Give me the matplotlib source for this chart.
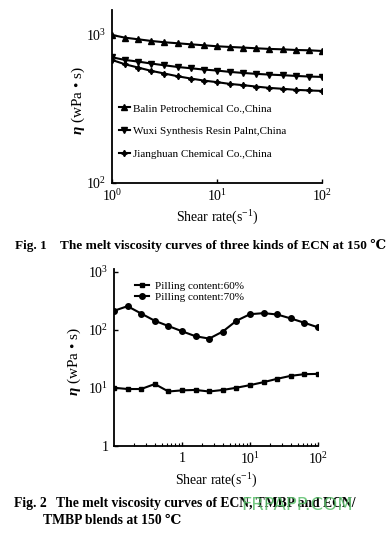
import numpy as np
import matplotlib
matplotlib.use("Agg")
import matplotlib.pyplot as plt
from matplotlib.lines import Line2D

plt.rcParams['font.family'] = ['Liberation Serif', 'DejaVu Serif']
plt.rcParams['mathtext.fontset'] = 'custom'
plt.rcParams['mathtext.rm'] = 'Liberation Serif'
plt.rcParams['mathtext.it'] = 'Liberation Serif:italic'
plt.rcParams['mathtext.bf'] = 'Liberation Serif:bold:italic'

# Fig. 1 data: three ECN grades
rate1 = [1.0, 1.33, 1.78, 2.37, 3.16, 4.22, 5.62, 7.5, 10.0,
         13.3, 17.8, 23.7, 31.6, 42.2, 56.2, 75.0, 100.0]
balin = [1000, 959, 935, 911, 893, 879, 865, 852, 839,
         830, 822, 813, 805, 800, 792, 788, 780]
wuxi = [707, 678, 661, 641, 624, 608, 596, 584, 575,
        563, 554, 546, 540, 535, 529, 524, 521]
jianghuan = [678, 634, 602, 572, 549, 526, 508, 492, 480,
             467, 458, 448, 439, 433, 426, 422, 419]
labels1 = ["Balin Petrochemical Co.,China",
           "Wuxi Synthesis Resin Palnt,China",
           "Jianghuan Chemical Co.,China"]

# Fig. 2 data: filler content
rate2 = [0.1, 0.158, 0.251, 0.398, 0.631, 1.0, 1.58, 2.51, 3.98,
         6.31, 10.0, 15.8, 25.1, 39.8, 63.1, 100.0]
fill60 = [10.1, 9.6, 9.6, 11.7, 8.7, 9.1, 9.25, 8.7, 9.25,
          10.1, 11.2, 12.6, 14.4, 16.2, 17.3, 17.5]
fill70 = [214, 257, 192, 144, 117, 95, 78, 71, 94,
          144, 187, 195, 185, 158, 133, 111]
labels2 = ["Pilling content:60%", "Pilling content:70%"]

W, H = 391, 539
fig = plt.figure(figsize=(W / 100, H / 100), dpi=100)
ylabel = r"$\mathbf{\eta}$ (wPa • s)"


def style_axes(ax):
    ax.set_xscale('log')
    ax.set_yscale('log')
    for s in ['top', 'right']:
        ax.spines[s].set_visible(False)
    for s in ['left', 'bottom']:
        ax.spines[s].set_linewidth(1.3)
    ax.tick_params(which='major', direction='in', length=3, width=1,
                   labelsize=10, pad=4)
    ax.tick_params(which='minor', direction='in', length=2, width=0.8)


# ---- Fig. 1 ----
ax1 = fig.add_axes([112 / W, 1 - 183 / H, 210 / W, 173 / H])
style_axes(ax1)
kw = dict(color='black', lw=1.5, ms=4.5)
ax1.plot(rate1, balin, marker='^', **kw)
ax1.plot(rate1, wuxi, marker='v', **kw)
ax1.plot(rate1, jianghuan, marker=(4, 1, 0), **kw)
ax1.set_xlim(1, 100)
ax1.set_ylim(100, 1475)
ax1.set_xticks([1, 10, 100])
ax1.set_xticklabels([r"$10^0$", r"$10^1$", r"$10^2$"])
ax1.set_yticks([100, 1000])
ax1.set_yticklabels([r"$10^2$", r"$10^3$"])
ax1.minorticks_off()
ax1.set_xlabel(r"Shear rate(s$^{-1}$)", fontsize=10, labelpad=3)
ax1.set_ylabel(ylabel, fontsize=11)
ax1.yaxis.set_label_coords(-0.119, 0.474)
h1 = [Line2D([], [], marker=m, **kw) for m in ['^', 'v', (4, 1, 0)]]
ax1.legend(h1, labels1, loc='upper left', bbox_to_anchor=(0.0, 0.5),
           frameon=False, fontsize=8, handlelength=1.0, handletextpad=0.25,
           labelspacing=1.2, borderaxespad=0.2)

fig.text(15 / W, 1 - 245 / H,
         "Fig. 1    The melt viscosity curves of three kinds of ECN at 150 \u2103",
         fontsize=9.5, fontweight='bold', va='center', ha='left')

# ---- Fig. 2 ----
ax2 = fig.add_axes([114 / W, 1 - 446 / H, 204 / W, 177 / H])
style_axes(ax2)
kw2 = dict(color='black', lw=1.5)
ax2.plot(rate2, fill60, marker='s', ms=3.5, **kw2)
ax2.plot(rate2, fill70, marker='o', ms=4, **kw2)
ax2.set_xlim(0.1, 100)
ax2.set_ylim(1, 1125)
ax2.set_xticks([1, 10, 100])
ax2.set_xticklabels(["1", r"$10^1$", r"$10^2$"])
ax2.set_yticks([1, 10, 100, 1000])
ax2.set_yticklabels(["1", r"$10^1$", r"$10^2$", r"$10^3$"])
ax2.yaxis.set_minor_locator(matplotlib.ticker.NullLocator())
ax2.set_xlabel(r"Shear rate(s$^{-1}$)", fontsize=10, labelpad=3)
ax2.set_ylabel(ylabel, fontsize=11)
ax2.yaxis.set_label_coords(-0.152, 0.475)
h2 = [Line2D([], [], marker='s', ms=3.5, **kw2),
      Line2D([], [], marker='o', ms=4, **kw2)]
ax2.legend(h2, labels2, loc='upper left', bbox_to_anchor=(0.08, 0.955),
           frameon=False, fontsize=8, handlelength=1.3, handletextpad=0.5,
           labelspacing=0.1, borderaxespad=0.0)

fig.text(14 / W, 1 - 503 / H, "Fig. 2", fontsize=9.8, fontweight='bold',
         va='center', ha='left')
fig.text(56 / W, 1 - 503 / H,
         "The melt viscosity curves of ECN, TMBP and ECN/",
         fontsize=9.8, fontweight='bold', va='center', ha='left')
fig.text(43 / W, 1 - 520 / H, "TMBP blends at 150 \u2103",
         fontsize=9.8, fontweight='bold', va='center', ha='left')

fig.text(297 / W, 1 - 505 / H, "FRPAPP.COM", fontsize=13,
         family='DejaVu Sans', color='#5cbf6c', alpha=0.85,
         va='center', ha='center')

fig.savefig("out.png", dpi=100)
